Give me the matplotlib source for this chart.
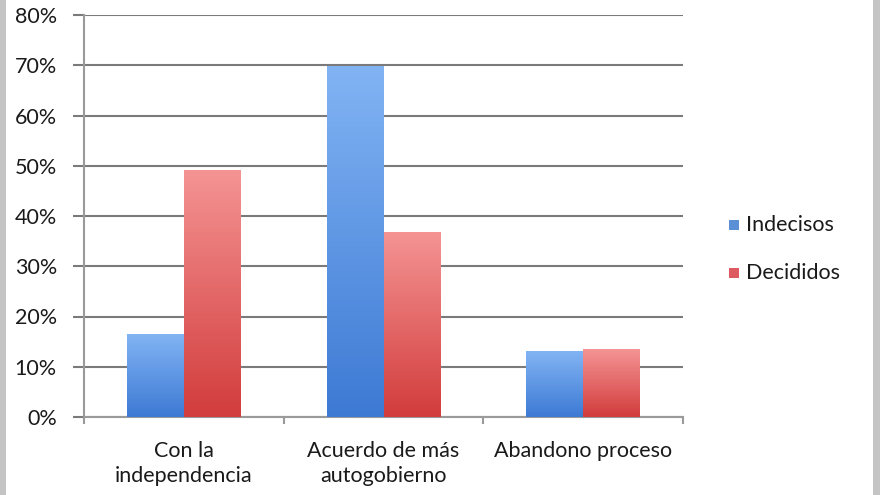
import numpy as np
import matplotlib
matplotlib.use('Agg')
import matplotlib.pyplot as plt
from matplotlib.colors import LinearSegmentedColormap
from matplotlib.patches import Rectangle

categories = ['Con la\nindependencia', 'Acuerdo de más\nautogobierno', 'Abandono proceso']
series_names = ['Indecisos', 'Decididos']
indecisos = [16.5, 69.9, 13.1]
decididos = [49.2, 36.8, 13.5]

plt.rcParams['font.family'] = ['Lato', 'DejaVu Sans']
fs = 15.5
tc = '#1a1a1a'

fig = plt.figure(figsize=(8.8, 4.95), dpi=100)
ax = fig.add_axes([84/880, 1 - 417/495, 599/880, 402/495])

blue_cmap = LinearSegmentedColormap.from_list('b', ['#3d7ad4', '#82b4f4'])
red_cmap = LinearSegmentedColormap.from_list('r', ['#d23c3c', '#f59494'])
grad = np.linspace(0, 1, 256).reshape(-1, 1)

width = 0.285
x = np.arange(len(categories))
for vals, offset, cmap in [(indecisos, -width / 2, blue_cmap),
                           (decididos, width / 2, red_cmap)]:
    bars = ax.bar(x + offset, vals, width, color='none', zorder=3)
    for b in bars:
        x0, y0 = b.get_x(), b.get_y()
        w, h = b.get_width(), b.get_height()
        im = ax.imshow(grad, cmap=cmap, origin='lower', aspect='auto',
                       extent=[x0, x0 + w, y0, y0 + h], zorder=3)
        im.set_clip_path(b)

ax.set_xlim(-0.5, 2.5)
ax.set_ylim(0, 80)
ax.set_yticks(np.arange(0, 81, 10))
ax.set_yticklabels([f'{v}%' for v in range(0, 81, 10)], fontsize=fs, color=tc)
ax.yaxis.grid(True, color='#7a7a7a', linewidth=1.5, zorder=0)
ax.set_axisbelow(True)
ax.tick_params(axis='y', length=8, width=1.5, color='#7a7a7a', pad=11.5)

ax.set_xticks([-0.5, 0.5, 1.5, 2.5])
ax.set_xticklabels([])
ax.set_xticks(x, minor=True)
ax.set_xticklabels(categories, minor=True, fontsize=fs, color=tc, linespacing=1.35)
ax.tick_params(axis='x', which='major', length=5, width=1.5, color='#9a9a9a')
ax.tick_params(axis='x', which='minor', length=0, pad=17)

for s in ['top', 'right']:
    ax.spines[s].set_visible(False)
ax.spines['left'].set_color('#9a9a9a')
ax.spines['left'].set_linewidth(1.5)
ax.spines['bottom'].set_color('#9a9a9a')
ax.spines['bottom'].set_linewidth(1.5)

# legend
fig.patches.append(Rectangle((729/880, 1 - 230/495), 10/880, 10/495, transform=fig.transFigure,
                             facecolor='#5b8fd6', edgecolor='none'))
fig.patches.append(Rectangle((729/880, 1 - 278/495), 10/880, 10/495, transform=fig.transFigure,
                             facecolor='#dc5a60', edgecolor='none'))
fig.text(746/880, 1 - 225/495, series_names[0], fontsize=fs, va='center', color=tc)
fig.text(746/880, 1 - 273/495, series_names[1], fontsize=fs, va='center', color=tc)

# gray frame edges
fig.patches.append(Rectangle((0, 0), 6/880, 1, transform=fig.transFigure,
                             facecolor='#c4c4c4', edgecolor='none'))
fig.patches.append(Rectangle((873/880, 0), 7/880, 1, transform=fig.transFigure,
                             facecolor='#c4c4c4', edgecolor='none'))

fig.savefig('out.png', dpi=100)
